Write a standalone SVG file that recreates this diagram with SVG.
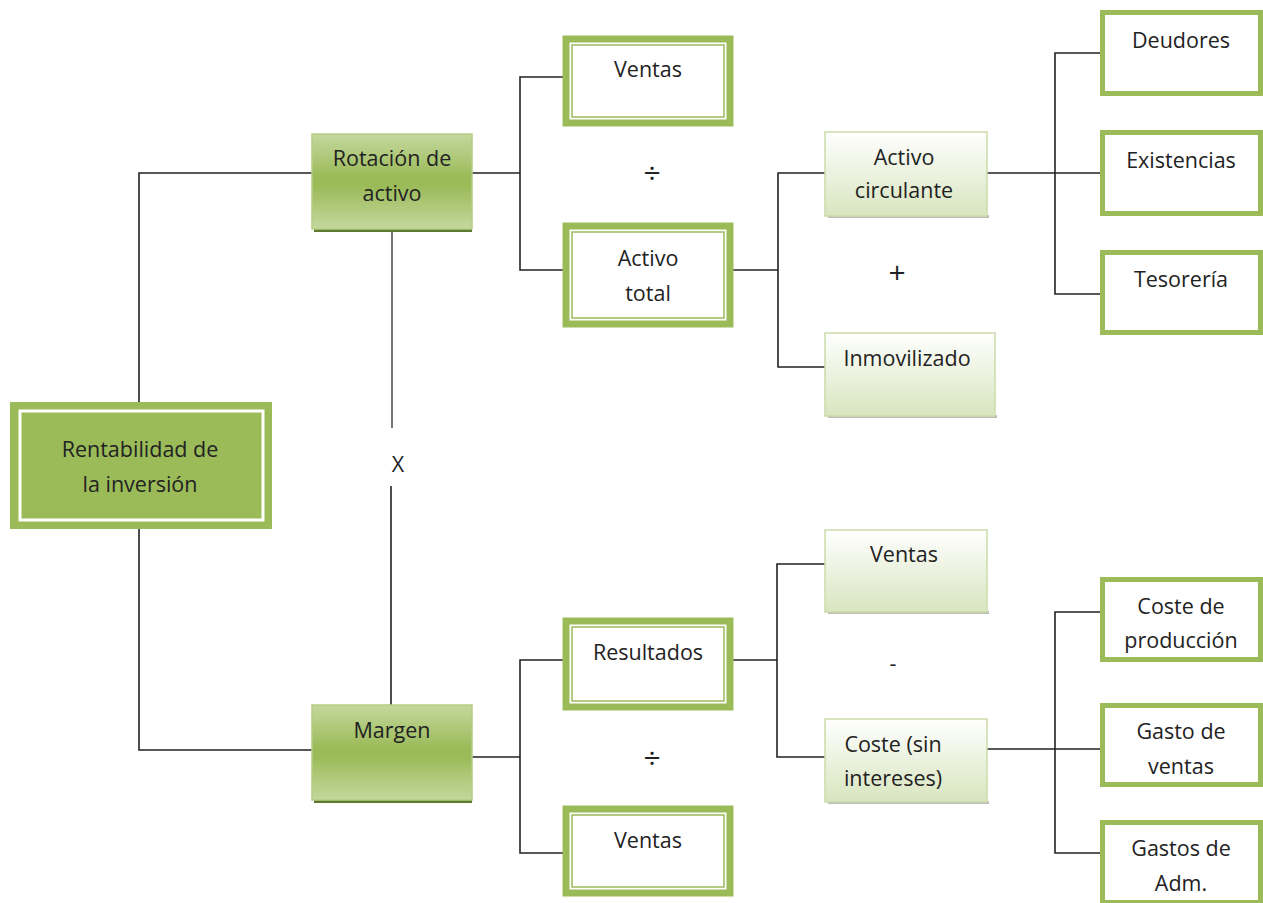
<svg xmlns="http://www.w3.org/2000/svg" width="1263" height="903" viewBox="0 0 1263 903">
<defs>
<linearGradient id="gMid" x1="0" y1="0" x2="0" y2="1">
<stop offset="0" stop-color="#C4D89E"/>
<stop offset="0.45" stop-color="#9BBB59"/>
<stop offset="0.55" stop-color="#9BBB59"/>
<stop offset="1" stop-color="#C4D89E"/>
</linearGradient>
<linearGradient id="gLight" x1="0" y1="0" x2="0" y2="1">
<stop offset="0" stop-color="#FFFFFF"/>
<stop offset="1" stop-color="#D8E5BF"/>
</linearGradient>
</defs>
<style>
text{font-family:"Open Sans","Liberation Sans",sans-serif;font-size:21.5px;fill:#222;text-anchor:middle}
.op{font-size:30px}
.ln{stroke:#222;stroke-width:1.6;fill:none}
.gl{stroke:#777;stroke-width:2;fill:none}
.dbl{fill:#fff;stroke:#9BBB59;stroke-width:7}
.dbl2{fill:none;stroke:#9BBB59;stroke-width:1.5}
.thk{fill:#fff;stroke:#9BBB59;stroke-width:5}
.mid{fill:url(#gMid);stroke:#B5CD85;stroke-width:1.5}
.lt{fill:url(#gLight);stroke:#CBDBA8;stroke-width:1.5}
.sh{fill:#BDBDBD}
.shd{fill:#5E7A2E}
</style>
<rect width="1263" height="903" fill="#fff"/>
<g id="connectors">
<polyline class="ln" points="312,173 139,173 139,402"/>
<polyline class="ln" points="139,529 139,750 312,750"/>
<line class="gl" x1="392" y1="230" x2="392" y2="428"/>
<line class="ln" x1="391" y1="486" x2="391" y2="705"/>
<line class="ln" x1="472" y1="173" x2="520" y2="173"/>
<polyline class="ln" points="563,77 520,77 520,270 563,270"/>
<line class="ln" x1="733" y1="270" x2="778" y2="270"/>
<polyline class="ln" points="825,173 778,173 778,367 825,367"/>
<line class="ln" x1="987" y1="173" x2="1100" y2="173"/>
<polyline class="ln" points="1100,53 1055,53 1055,294 1100,294"/>
<line class="ln" x1="472" y1="757" x2="520" y2="757"/>
<polyline class="ln" points="563,660 520,660 520,853 563,853"/>
<line class="ln" x1="733" y1="660" x2="777" y2="660"/>
<polyline class="ln" points="825,564 777,564 777,757 825,757"/>
<line class="ln" x1="987" y1="749" x2="1100" y2="749"/>
<polyline class="ln" points="1100,612 1055,612 1055,853 1100,853"/>
</g>
<g id="operators">
<text x="398" y="472" font-size="27">X</text>
<text class="op" x="652" y="184">÷</text>
<text class="op" x="897" y="283">+</text>
<text class="op" x="652" y="769">÷</text>
<text x="893" y="671">-</text>
</g>
<g id="n-rentabilidad">
<rect x="10" y="402" width="262" height="127" fill="#9BBB59"/>
<rect x="20" y="411" width="243" height="109" fill="none" stroke="#fff" stroke-width="3"/>
<text x="140" y="457">Rentabilidad de</text>
<text x="140" y="492">la inversión</text>
</g>
<g id="n-rotacion">
<rect class="shd" x="314" y="228" width="158" height="4"/>
<rect class="mid" x="312" y="134" width="160" height="95"/>
<text x="392" y="166">Rotación de</text>
<text x="392" y="201">activo</text>
</g>
<g id="n-margen">
<rect class="shd" x="314" y="799" width="158" height="4"/>
<rect class="mid" x="312" y="705" width="160" height="95"/>
<text x="392" y="738">Margen</text>
</g>
<g id="n-ventas1">
<rect class="dbl" x="566" y="39" width="164" height="84"/>
<rect class="dbl2" x="572" y="45" width="152" height="72"/>
<text x="648" y="77">Ventas</text>
</g>
<g id="n-activo-total">
<rect class="dbl" x="566" y="226" width="164" height="98"/>
<rect class="dbl2" x="572" y="232" width="152" height="86"/>
<text x="648" y="266">Activo</text>
<text x="648" y="301">total</text>
</g>
<g id="n-resultados">
<rect class="dbl" x="566" y="621" width="164" height="86"/>
<rect class="dbl2" x="572" y="627" width="152" height="74"/>
<text x="648" y="660">Resultados</text>
</g>
<g id="n-ventas2">
<rect class="dbl" x="566" y="809" width="164" height="84"/>
<rect class="dbl2" x="572" y="815" width="152" height="72"/>
<text x="648" y="848">Ventas</text>
</g>
<g id="n-activo-circulante">
<rect class="sh" x="828" y="215" width="161" height="3"/>
<rect class="lt" x="825" y="132" width="162" height="84"/>
<text x="904" y="165">Activo</text>
<text x="904" y="198">circulante</text>
</g>
<g id="n-inmovilizado">
<rect class="sh" x="828" y="415" width="169" height="3"/>
<rect class="lt" x="825" y="333" width="170" height="83"/>
<text x="907" y="366">Inmovilizado</text>
</g>
<g id="n-ventas3">
<rect class="sh" x="828" y="611" width="161" height="3"/>
<rect class="lt" x="825" y="530" width="162" height="82"/>
<text x="904" y="562">Ventas</text>
</g>
<g id="n-coste">
<rect class="sh" x="828" y="801" width="161" height="3"/>
<rect class="lt" x="825" y="719" width="162" height="83"/>
<text x="893" y="752">Coste (sin</text>
<text x="893" y="786">intereses)</text>
</g>
<g id="n-deudores">
<rect class="thk" x="1102.5" y="12.5" width="158" height="81"/>
<text x="1181" y="48">Deudores</text>
</g>
<g id="n-existencias">
<rect class="thk" x="1102.5" y="132.5" width="158" height="81"/>
<text x="1181" y="168">Existencias</text>
</g>
<g id="n-tesoreria">
<rect class="thk" x="1102.5" y="252.5" width="158" height="80"/>
<text x="1181" y="287">Tesorería</text>
</g>
<g id="n-coste-produccion">
<rect class="thk" x="1102.5" y="579.5" width="158" height="80"/>
<text x="1181" y="614">Coste de</text>
<text x="1181" y="648">producción</text>
</g>
<g id="n-gasto-ventas">
<rect class="thk" x="1102.5" y="705.5" width="158" height="79"/>
<text x="1181" y="739">Gasto de</text>
<text x="1181" y="774">ventas</text>
</g>
<g id="n-gastos-adm">
<rect class="thk" x="1102.5" y="822.5" width="158" height="80"/>
<text x="1181" y="856">Gastos de</text>
<text x="1181" y="891">Adm.</text>
</g>
</svg>
